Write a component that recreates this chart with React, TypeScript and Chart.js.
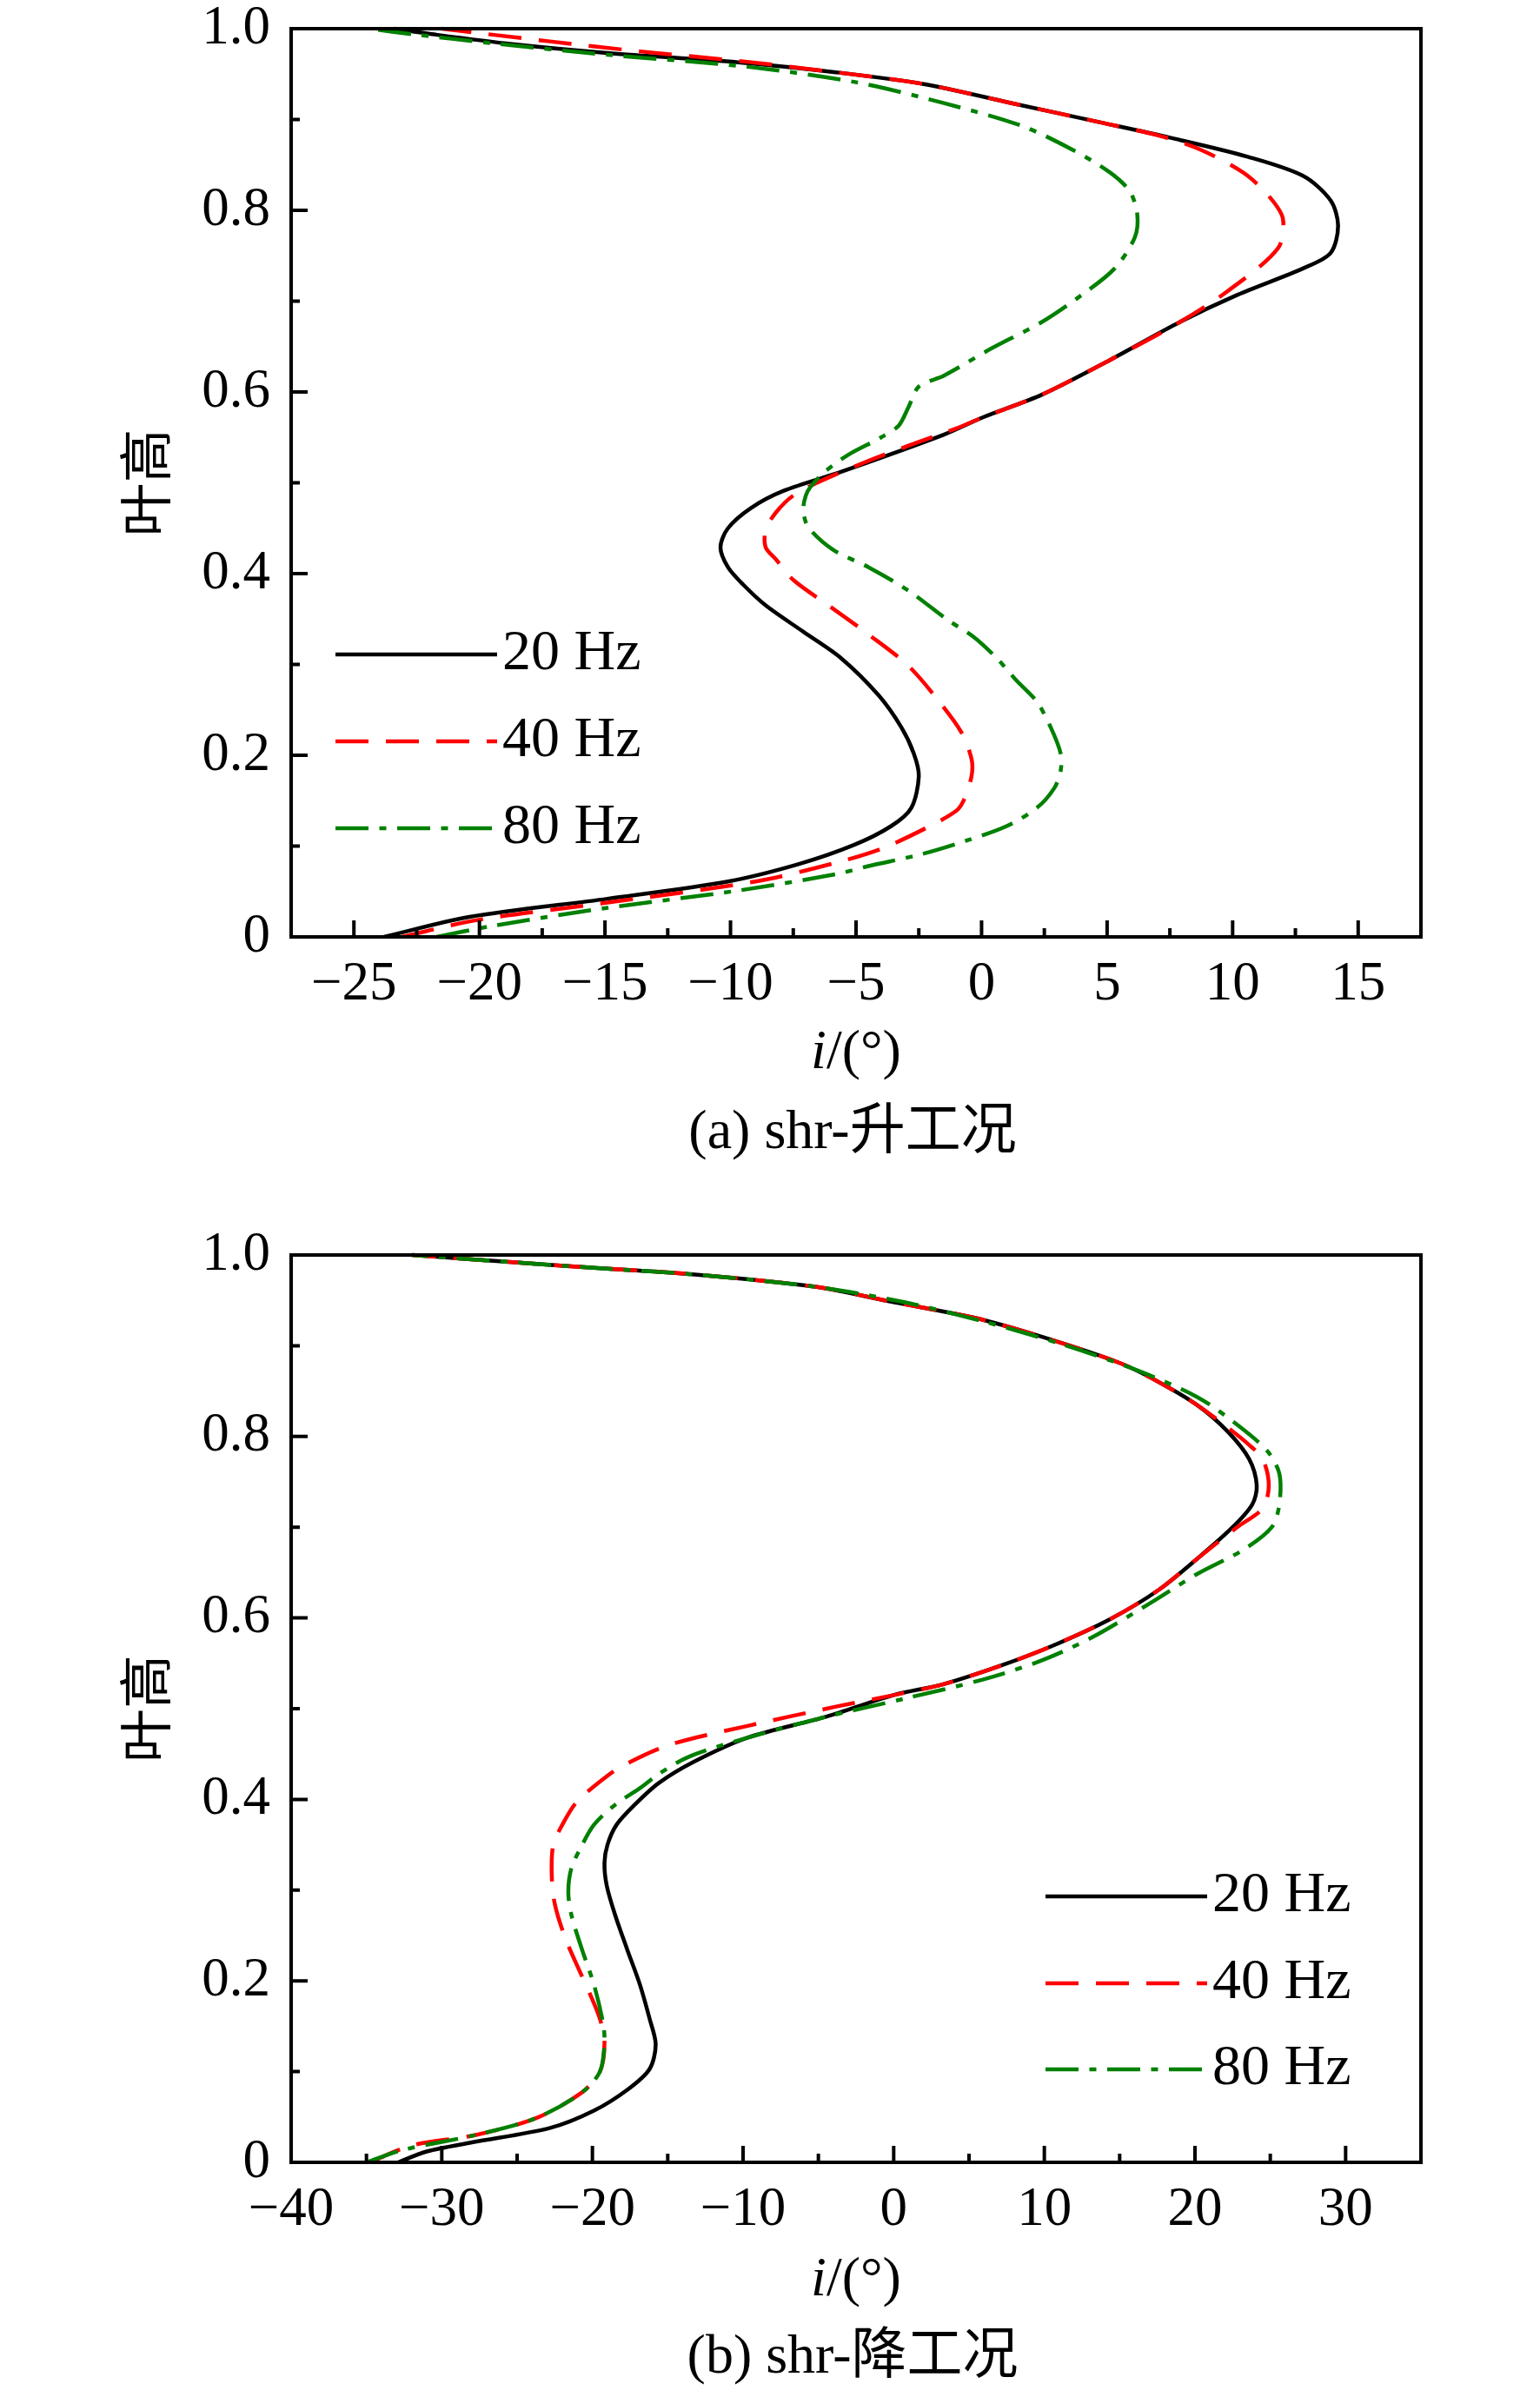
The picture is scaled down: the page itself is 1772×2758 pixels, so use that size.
import React, { useEffect, useRef } from "react";
import { Chart, registerables } from "chart.js";
Chart.register(...registerables);

// ---------- data ----------
const seriesLabels = ["20 Hz", "40 Hz", "80 Hz"];

// (a) shr-升工况
const a20X = [-23.8, -20.4, -14.9, -10.1, -7.3, -5.1, -3.6, -2.8, -2.5, -2.7, -3.2, -4.1, -5.6, -7.1, -8.6, -9.5, -10.1, -10.4, -10.1, -9.2, -7.9, -5.5, -1.5, 0.05, 2.4, 5.1, 7.9, 10.2, 12.8, 13.9, 14.2, 13.9, 12.8, 10.6, 7.5, 4.7, 1.2, -2.3, -5.8, -9.7, -14.8, -18.7, -21.9, -23.4];
const a20Y = [0.0, 0.022, 0.042, 0.061, 0.08, 0.101, 0.122, 0.142, 0.177, 0.202, 0.231, 0.266, 0.307, 0.336, 0.365, 0.388, 0.407, 0.429, 0.45, 0.472, 0.491, 0.513, 0.553, 0.572, 0.597, 0.635, 0.677, 0.707, 0.736, 0.753, 0.783, 0.811, 0.838, 0.859, 0.88, 0.897, 0.918, 0.939, 0.952, 0.963, 0.973, 0.983, 0.994, 1.0];

const a40X = [-23.1, -20.0, -15.1, -9.0, -5.9, -4.0, -2.2, -1.0, -0.7, -0.4, -0.4, -0.8, -1.6, -2.9, -4.5, -6.1, -7.5, -8.2, -8.6, -8.6, -8.2, -7.5, -6.4, -4.7, -2.9, -1.0, 0.05, 2.4, 5.1, 7.9, 9.8, 11.8, 12.0, 11.4, 10.4, 8.7, 7.1, 4.7, 1.2, -2.3, -5.8, -9.5, -13.6, -17.2, -21.5];
const a40Y = [0.0, 0.019, 0.037, 0.061, 0.081, 0.097, 0.12, 0.139, 0.151, 0.177, 0.196, 0.225, 0.256, 0.298, 0.333, 0.365, 0.393, 0.416, 0.429, 0.448, 0.467, 0.486, 0.502, 0.522, 0.541, 0.56, 0.572, 0.597, 0.635, 0.677, 0.711, 0.758, 0.791, 0.817, 0.842, 0.867, 0.882, 0.897, 0.918, 0.939, 0.952, 0.964, 0.975, 0.986, 1.0];

const a80X = [-21.7, -19.5, -14.9, -9.7, -5.8, -4.5, -2.4, -0.6, 1.0, 2.2, 2.9, 3.15, 3.15, 2.75, 2.2, 1.4, 0.6, -0.3, -1.35, -2.9, -4.5, -5.9, -6.9, -7.1, -7.0, -6.8, -6.25, -5.3, -4.0, -3.3, -2.9, -2.5, -1.5, 0.4, 2.4, 4.0, 5.3, 6.1, 6.2, 5.9, 5.1, 3.6, 1.6, -1.5, -5.0, -9.3, -14.8, -19.5, -22.7, -24.4];
const a80Y = [0.0, 0.012, 0.032, 0.051, 0.069, 0.078, 0.091, 0.106, 0.122, 0.142, 0.164, 0.183, 0.202, 0.231, 0.259, 0.282, 0.307, 0.33, 0.349, 0.381, 0.407, 0.426, 0.451, 0.47, 0.486, 0.496, 0.512, 0.531, 0.55, 0.563, 0.584, 0.606, 0.618, 0.648, 0.677, 0.707, 0.736, 0.77, 0.796, 0.821, 0.842, 0.867, 0.893, 0.918, 0.941, 0.958, 0.971, 0.984, 0.994, 1.0];

// (b) shr-降工况
const b20X = [-32.9, -31.0, -28.0, -22.8, -19.9, -17.6, -16.2, -15.8, -16.2, -16.85, -17.7, -18.5, -19.05, -19.2, -19.0, -18.4, -17.2, -15.6, -13.2, -9.7, -4.5, 0.0, 3.3, 7.2, 10.5, 14.4, 17.6, 20.2, 22.5, 23.8, 24.1, 23.6, 22.2, 20.2, 17.6, 15.0, 9.8, 5.3, 0.0, -5.2, -13.6, -20.1, -25.3, -31.9];
const b20Y = [0.0, 0.012, 0.022, 0.038, 0.057, 0.081, 0.103, 0.13, 0.158, 0.196, 0.235, 0.273, 0.305, 0.33, 0.35, 0.372, 0.394, 0.418, 0.442, 0.468, 0.491, 0.515, 0.527, 0.548, 0.569, 0.599, 0.631, 0.666, 0.7, 0.725, 0.746, 0.775, 0.805, 0.834, 0.86, 0.881, 0.91, 0.931, 0.948, 0.965, 0.979, 0.986, 0.992, 1.0];

const b40X = [-34.8, -31.9, -27.8, -23.7, -20.7, -19.5, -19.2, -19.5, -20.2, -20.8, -21.8, -22.5, -22.7, -22.6, -22.0, -21.1, -19.7, -18.2, -14.9, -9.7, -3.9, 0.0, 3.3, 7.2, 10.5, 14.4, 17.6, 20.2, 22.8, 24.5, 24.9, 24.5, 23.5, 22.0, 20.2, 17.6, 15.0, 9.8, 5.3, 0.0, -5.2, -13.6, -20.1, -25.3, -32.0];
const b40Y = [0.0, 0.019, 0.03, 0.049, 0.077, 0.1, 0.132, 0.158, 0.187, 0.209, 0.247, 0.285, 0.317, 0.35, 0.372, 0.396, 0.417, 0.435, 0.46, 0.481, 0.502, 0.515, 0.527, 0.548, 0.569, 0.599, 0.631, 0.666, 0.7, 0.721, 0.746, 0.775, 0.792, 0.812, 0.834, 0.86, 0.881, 0.91, 0.931, 0.948, 0.965, 0.979, 0.986, 0.992, 1.0];

const b80X = [-35.0, -32.5, -27.8, -23.7, -20.7, -19.5, -19.2, -19.3, -19.9, -20.7, -21.4, -21.6, -21.4, -20.8, -19.9, -18.5, -16.8, -15.6, -13.6, -9.7, -4.5, 0.7, 5.9, 9.8, 13.1, 17.0, 20.2, 23.2, 25.1, 25.6, 25.6, 24.8, 22.8, 20.2, 16.3, 11.1, 5.9, 0.7, -5.2, -13.6, -20.1, -25.3, -32.0];
const b80Y = [0.0, 0.014, 0.03, 0.049, 0.077, 0.1, 0.132, 0.154, 0.196, 0.235, 0.273, 0.298, 0.324, 0.346, 0.372, 0.394, 0.413, 0.428, 0.447, 0.468, 0.491, 0.511, 0.532, 0.553, 0.578, 0.616, 0.649, 0.675, 0.7, 0.725, 0.759, 0.784, 0.813, 0.843, 0.872, 0.902, 0.927, 0.948, 0.965, 0.979, 0.986, 0.992, 1.0];

// ticks
const aXTicks = [-25, -20, -15, -10, -5, 0, 5, 10, 15];
const aXMinor = [-22.5, -17.5, -12.5, -7.5, -2.5, 2.5, 7.5, 12.5];
const bXTicks = [-40, -30, -20, -10, 0, 10, 20, 30];
const bXMinor = [-35, -25, -15, -5, 5, 15, 25];
const yTicks = [0, 0.2, 0.4, 0.6, 0.8, 1.0];
const yTickLabels = ["0", "0.2", "0.4", "0.6", "0.8", "1.0"];
const yMinor = [0.1, 0.3, 0.5, 0.7, 0.9];

// ---------- styles ----------
const SERIF = "'Liberation Serif', 'Noto Sans CJK SC', serif";
const lineStyles = [
  { color: "#000000", dash: [] as number[], order: 3 },
  { color: "#ff0000", dash: [38, 20], order: 2 },
  { color: "#008000", dash: [38, 12.5, 8, 12.5], order: 1 },
];

const zip = (xs: number[], ys: number[]) => xs.map((x, i) => ({ x, y: ys[i] }));
const fmtMinus = (v: number) => (v < 0 ? "\u2212" + Math.abs(v) : String(v));

const frameTicks = {
  id: "frameTicks",
  afterDatasetsDraw(chart: any, _args: any, opts: any) {
    const { ctx, chartArea } = chart;
    const { left, top, right, bottom } = chartArea;
    const xs = chart.scales.x;
    const ys = chart.scales.y;
    ctx.save();
    ctx.strokeStyle = "#000";
    ctx.lineWidth = 4;
    ctx.lineCap = "butt";
    ctx.setLineDash([]);
    ctx.beginPath();
    (opts.xMajor || []).forEach((v: number) => {
      const p = xs.getPixelForValue(v);
      ctx.moveTo(p, bottom);
      ctx.lineTo(p, bottom - 19);
    });
    (opts.xMinor || []).forEach((v: number) => {
      const p = xs.getPixelForValue(v);
      ctx.moveTo(p, bottom);
      ctx.lineTo(p, bottom - 10);
    });
    (opts.yMajor || []).forEach((v: number) => {
      const p = ys.getPixelForValue(v);
      ctx.moveTo(left, p);
      ctx.lineTo(left + 19, p);
    });
    (opts.yMinor || []).forEach((v: number) => {
      const p = ys.getPixelForValue(v);
      ctx.moveTo(left, p);
      ctx.lineTo(left + 10, p);
    });
    ctx.stroke();
    ctx.strokeRect(left, top, right - left, bottom - top);
    ctx.restore();
  },
};

const lineLegend = {
  id: "lineLegend",
  afterDatasetsDraw(chart: any, _args: any, opts: any) {
    const ctx = chart.ctx;
    chart.data.datasets.forEach((ds: any, i: number) => {
      const yy = opts.rows[i];
      ctx.save();
      ctx.strokeStyle = ds.borderColor;
      ctx.lineWidth = ds.borderWidth;
      ctx.lineCap = "butt";
      ctx.setLineDash(ds.borderDash || []);
      ctx.beginPath();
      ctx.moveTo(opts.x0, yy);
      ctx.lineTo(opts.x1, yy);
      ctx.stroke();
      ctx.setLineDash([]);
      ctx.fillStyle = "#000";
      ctx.font = `66px ${SERIF}`;
      ctx.textBaseline = "middle";
      ctx.textAlign = "left";
      ctx.fillText(ds.label, opts.textX, yy);
      ctx.restore();
    });
  },
};

function makeConfig(
  series: { x: number[]; y: number[] }[],
  xMin: number,
  xMax: number,
  xTicks: number[],
  xMinor: number[],
  padTop: number,
  xAxisHeight: number,
  legend: { x0: number; x1: number; textX: number; rows: number[] }
): any {
  return {
    type: "line",
    data: {
      datasets: series.map((s, i) => ({
        label: seriesLabels[i],
        data: zip(s.x, s.y),
        borderColor: lineStyles[i].color,
        borderDash: lineStyles[i].dash,
        borderWidth: 4.5,
        pointRadius: 0,
        pointHoverRadius: 0,
        tension: 0.3,
        fill: false,
        order: lineStyles[i].order,
        clip: 6,
      })),
    },
    options: {
      responsive: false,
      maintainAspectRatio: false,
      animation: false,
      events: [],
      layout: { padding: { top: padTop, right: 137, left: 0, bottom: 0 } },
      plugins: {
        legend: { display: false },
        tooltip: { enabled: false },
        frameTicks: { xMajor: xTicks, xMinor, yMajor: yTicks, yMinor },
        lineLegend: legend,
      },
      scales: {
        x: {
          type: "linear",
          min: xMin,
          max: xMax,
          afterBuildTicks: (scale: any) => {
            scale.ticks = xTicks.map((v) => ({ value: v }));
          },
          afterFit: (scale: any) => {
            scale.height = xAxisHeight;
            scale.paddingLeft = 0;
            scale.paddingRight = 0;
            scale.paddingTop = 0;
            scale.paddingBottom = 0;
          },
          grid: { display: false, drawTicks: false },
          border: { display: false },
          ticks: {
            padding: 18,
            color: "#000",
            font: { family: SERIF, size: 63 },
            maxRotation: 0,
            autoSkip: false,
            callback: (v: any) => fmtMinus(Number(v)),
          },
        },
        y: {
          type: "linear",
          min: 0,
          max: 1,
          afterBuildTicks: (scale: any) => {
            scale.ticks = yTicks.map((v) => ({ value: v }));
          },
          afterFit: (scale: any) => {
            scale.width = 335;
            scale.paddingLeft = 0;
            scale.paddingRight = 0;
            scale.paddingTop = 0;
            scale.paddingBottom = 0;
          },
          grid: { display: false, drawTicks: false },
          border: { display: false },
          ticks: {
            padding: 24,
            color: "#000",
            font: { family: SERIF, size: 63 },
            autoSkip: false,
            callback: (v: any) => {
              const idx = yTicks.findIndex((t) => Math.abs(t - Number(v)) < 1e-9);
              return idx >= 0 ? yTickLabels[idx] : "";
            },
          },
          title: {
            display: true,
            text: "叶高",
            color: "#000",
            font: { family: SERIF, size: 62 },
            padding: { top: 138, bottom: 0 },
          },
        },
      },
    },
    plugins: [frameTicks, lineLegend],
  };
}

const textStyle = (top: number, left = 335): React.CSSProperties => ({
  position: "absolute",
  left,
  top,
  width: 1300,
  textAlign: "center",
  fontFamily: SERIF,
  fontSize: 64,
  lineHeight: "64px",
  whiteSpace: "nowrap",
  color: "#000",
});

export default function App() {
  const r1 = useRef<HTMLCanvasElement>(null);
  const r2 = useRef<HTMLCanvasElement>(null);

  useEffect(() => {
    const c1 = new Chart(
      r1.current as HTMLCanvasElement,
      makeConfig(
        [
          { x: a20X, y: a20Y },
          { x: a40X, y: a40Y },
          { x: a80X, y: a80Y },
        ],
        -27.5,
        17.5,
        aXTicks,
        aXMinor,
        33,
        302,
        { x0: 386, x1: 572, textX: 578, rows: [753, 853, 953] }
      )
    );
    const c2 = new Chart(
      r2.current as HTMLCanvasElement,
      makeConfig(
        [
          { x: b20X, y: b20Y },
          { x: b40X, y: b40Y },
          { x: b80X, y: b80Y },
        ],
        -40,
        35,
        bXTicks,
        bXMinor,
        64,
        270,
        { x0: 1203, x1: 1389, textX: 1395, rows: [802, 902, 1001] }
      )
    );
    return () => {
      c1.destroy();
      c2.destroy();
    };
  }, []);

  return (
    <div style={{ position: "absolute", left: 0, top: 0, width: 1772, height: 2758, background: "#fff", overflow: "hidden" }}>
      <canvas ref={r1} width={1772} height={1380} style={{ position: "absolute", left: 0, top: 0, width: 1772, height: 1380 }} />
      <canvas ref={r2} width={1772} height={1378} style={{ position: "absolute", left: 0, top: 1380, width: 1772, height: 1378 }} />
      <div style={textStyle(1176)}>
        <i>i</i>/(°)
      </div>
      <div style={textStyle(1268, 331)}>(a) shr-升工况</div>
      <div style={textStyle(2588)}>
        <i>i</i>/(°)
      </div>
      <div style={textStyle(2677, 331)}>(b) shr-降工况</div>
    </div>
  );
}
